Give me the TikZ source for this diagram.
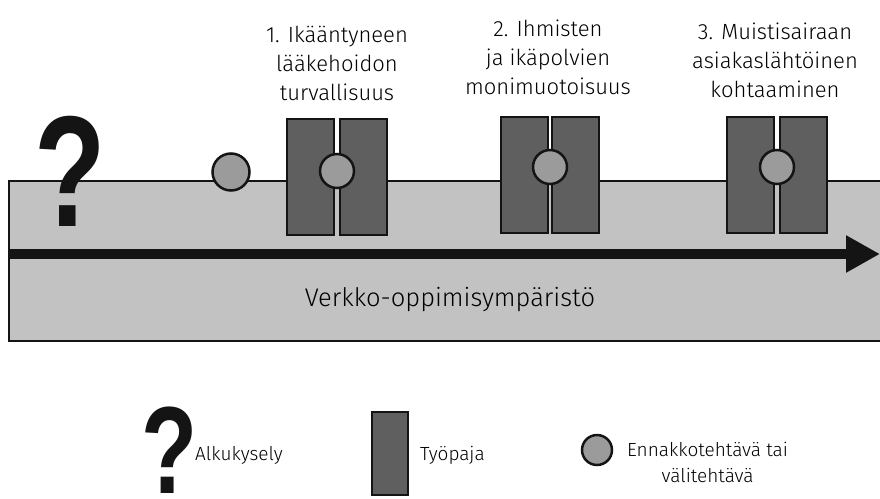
\documentclass[tikz,border=0pt]{standalone}
\usepackage{fontspec}
\setmainfont{Fira Sans Light}
\newfontfamily\qfont{Liberation Sans}
\usetikzlibrary{arrows.meta}

\definecolor{bandgray}{HTML}{C2C2C2}
\definecolor{wsgray}{HTML}{5F5F5F}
\definecolor{dotgray}{HTML}{9B9B9B}
\definecolor{ink}{HTML}{141414}

\tikzset{
  band/.style={draw=ink, line width=2pt, fill=bandgray, rectangle, inner sep=0pt,
    minimum width=891pt, minimum height=160pt},
  wsbox/.style={draw=ink, line width=2pt, fill=wsgray, rectangle, inner sep=0pt,
    minimum width=47pt, minimum height=116pt},
  task/.style={draw=ink, line width=2.5pt, fill=dotgray, circle, inner sep=0pt,
    minimum size=#1},
  task/.default=34pt,
  title/.style={align=center, inner sep=0pt,
    font=\fontsize{22}{29}\selectfont},
  legend/.style={inner sep=0pt, font=\fontsize{19}{26}\selectfont},
  qmark/.style={inner sep=0pt, text=ink, xscale=.74,
    font=\qfont\bfseries\fontsize{#1}{#1}\selectfont},
  timeline/.style={draw=ink, line width=10pt,
    -{Triangle[length=34pt,width=35pt]}},
}

\begin{document}
\begin{tikzpicture}[x=1pt,y=-1pt]
  \useasboundingbox (0,0) rectangle (880,498);
  \clip (0,0) rectangle (880,498);

  % learning environment band and time line
  \node[band] (env) at (454.5,261) {};
  \node[font=\fontsize{25.5}{30}\selectfont, inner sep=0pt] (envlabel) at (450,300)
    {Verkko-oppimisympäristö};
  \coordinate (tstart) at (9,254);
  \coordinate (tend) at (880,254);
  \draw[timeline] (tstart) -- (tend);

  % initial survey
  \node[qmark=158] (survey) at (70,171) {?};

  % preliminary task
  \node[task=37pt] (pre) at (231,172) {};

  % workshop 1
  \node[wsbox] (w1a) at (310.5,177) {};
  \node[wsbox] (w1b) at (363.5,177) {};
  \node[task] (t1) at (337,171) {};
  \node[title] (h1) at (337,63)
    {1. Ikääntyneen\\lääkehoidon\\turvallisuus};

  % workshop 2
  \node[wsbox] (w2a) at (524.5,174.5) {};
  \node[wsbox] (w2b) at (575.5,174.5) {};
  \node[task] (t2) at (550,167) {};
  \node[title] (h2) at (548,57)
    {2. Ihmisten\\ja ikäpolvien\\monimuotoisuus};

  % workshop 3
  \node[wsbox] (w3a) at (750.5,175) {};
  \node[wsbox] (w3b) at (803.5,175) {};
  \node[task] (t3) at (777,167) {};
  \node[title] (h3) at (775,60)
    {3. Muistisairaan\\asiakaslähtöinen\\kohtaaminen};

  % legend
  \node[qmark=124] (lq) at (170,450) {?};
  \node[legend, anchor=west] (lqt) at (195,455) {Alkukysely};
  \node[wsbox, minimum width=36pt, minimum height=83pt] (lw) at (390,453.5) {};
  \node[legend, anchor=west] (lwt) at (420,455) {Työpaja};
  \node[task=30pt] (lt) at (597,450) {};
  \node[legend, align=center, anchor=west] (ltt) at (627,462)
    {Ennakkotehtävä tai\\välitehtävä};
\end{tikzpicture}
\end{document}
